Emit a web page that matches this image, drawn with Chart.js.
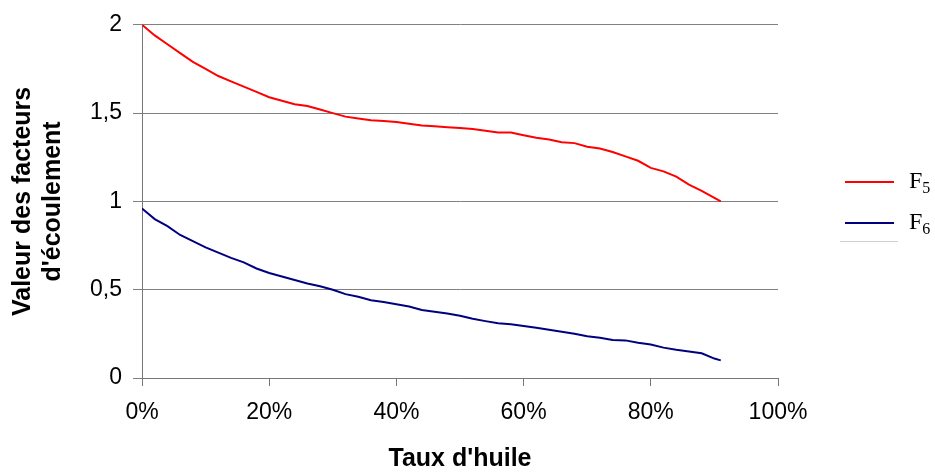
<!DOCTYPE html>
<html>
<head>
<meta charset="utf-8">
<script src="https://cdn.jsdelivr.net/npm/chart.js@4/dist/chart.umd.min.js"></script>
<style>
  html, body { margin: 0; padding: 0; background: #fff; }
  #wrap { width: 935px; height: 474px; }
</style>
</head>
<body>
<div id="wrap"><canvas id="Grafico_Facteurs" width="935" height="474"></canvas></div>
<script>
// taux d'huile (%)
const xPct = [0, 2, 4, 6, 8, 10, 12, 14, 16, 18, 20, 22, 24, 26, 28, 30, 32, 34, 36, 38, 40,
              42, 44, 46, 48, 50, 52, 54, 56, 58, 60, 62, 64, 66, 68, 70, 72, 74, 76, 78, 80,
              82, 84, 86, 88, 90, 91];

const f5Values = [2.00, 1.94, 1.89, 1.84, 1.79, 1.75, 1.71, 1.68, 1.65, 1.62, 1.59, 1.57, 1.55, 1.54, 1.52, 1.50, 1.48, 1.47, 1.46, 1.455, 1.45,
                  1.44, 1.43, 1.425, 1.42, 1.415, 1.41, 1.40, 1.39, 1.39, 1.375, 1.36, 1.35, 1.335, 1.33, 1.31, 1.30, 1.28, 1.255, 1.23, 1.19,
                  1.17, 1.14, 1.095, 1.06, 1.02, 1.00];

const f6Values = [0.96, 0.90, 0.86, 0.81, 0.775, 0.74, 0.71, 0.68, 0.655, 0.62, 0.595, 0.575, 0.555, 0.535, 0.52, 0.50, 0.475, 0.46, 0.44, 0.43, 0.418,
                  0.405, 0.385, 0.375, 0.365, 0.352, 0.335, 0.322, 0.31, 0.305, 0.295, 0.285, 0.273, 0.262, 0.25, 0.237, 0.228, 0.215, 0.213, 0.20, 0.19,
                  0.172, 0.16, 0.15, 0.14, 0.11, 0.10];

const seriesNames = ["F", "F"];
const seriesSubs = ["5", "6"];
const lineColors = ["#FF0000", "#000080"];

const toPoints = vals => vals.map((v, i) => ({ x: xPct[i], y: v }));

// legende dessinee a la main (indices F5 / F6)
const legendeIndices = {
  id: "legendeIndices",
  afterDraw(chart) {
    const ctx = chart.ctx;
    const rows = [182, 223];
    ctx.save();
    rows.forEach((y, i) => {
      ctx.strokeStyle = lineColors[i];
      ctx.lineWidth = 2;
      ctx.beginPath();
      ctx.moveTo(845, y);
      ctx.lineTo(894, y);
      ctx.stroke();
      ctx.fillStyle = "#000";
      ctx.textBaseline = "alphabetic";
      ctx.font = "24px 'Liberation Serif', 'Times New Roman', serif";
      ctx.fillText(seriesNames[i], 909, y + 6);
      const w = ctx.measureText(seriesNames[i]).width;
      ctx.font = "16px 'Liberation Serif', 'Times New Roman', serif";
      ctx.fillText(seriesSubs[i], 909 + w, y + 11);
    });
    ctx.strokeStyle = "#d0d0d0";
    ctx.lineWidth = 1;
    ctx.beginPath();
    ctx.moveTo(840, 241.5);
    ctx.lineTo(898, 241.5);
    ctx.stroke();
    ctx.restore();
  }
};

new Chart("Grafico_Facteurs", {
  type: "line",
  data: {
    datasets: [{
      label: "F5",
      data: toPoints(f5Values),
      borderColor: lineColors[0],
      borderWidth: 2,
      pointRadius: 0,
      tension: 0,
      fill: false
    }, {
      label: "F6",
      data: toPoints(f6Values),
      borderColor: lineColors[1],
      borderWidth: 2,
      pointRadius: 0,
      tension: 0,
      fill: false
    }]
  },
  options: {
    responsive: false,
    animation: false,
    devicePixelRatio: 1,
    layout: { padding: { left: 0, right: 157, top: 24, bottom: 0 } },
    plugins: {
      legend: { display: false },
      tooltip: { enabled: false }
    },
    scales: {
      x: {
        type: "linear",
        min: 0,
        max: 100,
        afterFit: s => { s.height = 96; },
        ticks: {
          stepSize: 20,
          padding: 13,
          maxRotation: 0,
          color: "#000",
          font: { family: "'Liberation Sans', Arial, sans-serif", size: 23 },
          callback: v => v + "%"
        },
        grid: { drawOnChartArea: false, drawTicks: true, tickLength: 8, color: "#777" },
        border: { color: "#777", width: 1 },
        title: {
          display: true,
          text: "Taux d'huile",
          color: "#000",
          padding: 0,
          font: { family: "'Liberation Sans', Arial, sans-serif", size: 25, weight: "bold" }
        }
      },
      y: {
        min: 0,
        max: 2,
        afterFit: s => { s.width = 142; },
        ticks: {
          stepSize: 0.5,
          padding: 11,
          color: "#000",
          font: { family: "'Liberation Sans', Arial, sans-serif", size: 23 },
          callback: v => String(v).replace(".", ",")
        },
        grid: { color: "#808080", tickLength: 9 },
        border: { color: "#777", width: 1 },
        title: {
          display: true,
          text: ["Valeur des facteurs", "d'écoulement"],
          color: "#000",
          padding: { top: 8, bottom: 0 },
          font: { family: "'Liberation Sans', Arial, sans-serif", size: 25, weight: "bold", lineHeight: 1.2 }
        }
      }
    }
  },
  plugins: [legendeIndices]
});
</script>
</body>
</html>
